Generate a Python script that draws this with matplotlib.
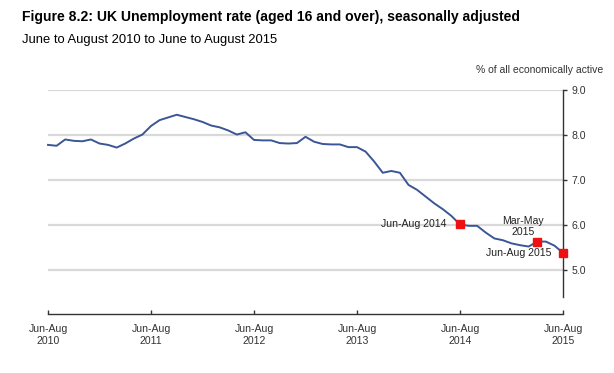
import matplotlib
matplotlib.use("Agg")
import matplotlib.pyplot as plt

plt.rcParams['font.family'] = ['Liberation Sans', 'DejaVu Sans']

# monthly rolling three-month periods, Jun-Aug 2010 .. Jun-Aug 2015
rate = [7.78, 7.76, 7.90, 7.87, 7.86, 7.90, 7.81, 7.78, 7.72, 7.81,
        7.92, 8.01, 8.20, 8.33, 8.39, 8.45, 8.40, 8.35, 8.29, 8.21,
        8.17, 8.10, 8.01, 8.06, 7.89, 7.88, 7.88, 7.82, 7.81, 7.82,
        7.96, 7.85, 7.80, 7.79, 7.79, 7.73, 7.73, 7.63, 7.41, 7.16,
        7.20, 7.16, 6.89, 6.78, 6.63, 6.48, 6.35, 6.20, 6.01, 5.98,
        5.98, 5.83, 5.70, 5.66, 5.59, 5.55, 5.52, 5.63, 5.63, 5.54,
        5.38]
months = list(range(len(rate)))

tick_pos = [0, 12, 24, 36, 48, 60]
tick_labels = ['Jun-Aug\n2010', 'Jun-Aug\n2011', 'Jun-Aug\n2012',
               'Jun-Aug\n2013', 'Jun-Aug\n2014', 'Jun-Aug\n2015']
y_ticks = [5.0, 6.0, 7.0, 8.0, 9.0]

marked = [48, 57, 60]
marked_labels = ['Jun-Aug 2014', 'Mar-May\n2015', 'Jun-Aug 2015']

fig = plt.figure(figsize=(6.14, 3.73), dpi=100)
ax = fig.add_axes([48/614, 1-314/373, 515/614, 224/373])

for v in y_ticks:
    ax.axhline(v, color='#d9d9d9', lw=1.6, zorder=1)

ax.plot(months, rate, color='#3b5696', lw=1.4, zorder=3, clip_on=False)
ax.plot([months[i] for i in marked], [rate[i] for i in marked], 's',
        color='#ee1111', ms=5.5, zorder=4, mec='#ee1111', clip_on=False)

ax.annotate(marked_labels[0], (marked[0], rate[marked[0]]), xytext=(-10, 0),
            textcoords='offset points', ha='right', va='center', fontsize=7.6, color='#222222')
ax.annotate(marked_labels[1], (marked[1], rate[marked[1]]), xytext=(-10, 3),
            textcoords='offset points', ha='center', va='bottom', fontsize=7.6,
            color='#222222', linespacing=1.15)
ax.annotate(marked_labels[2], (marked[2], rate[marked[2]]), xytext=(-8, 0),
            textcoords='offset points', ha='right', va='center', fontsize=7.6, color='#222222')

ax.set_xlim(0, 60)
ax.set_ylim(4.02, 9.0)

ax.spines['left'].set_visible(False)
ax.spines['top'].set_visible(False)
ax.spines['right'].set_bounds(4.4, 9.0)
ax.spines['right'].set_color('#333333')
ax.spines['bottom'].set_color('#333333')
ax.spines['right'].set_linewidth(1.0)
ax.spines['bottom'].set_linewidth(1.0)

ax.yaxis.tick_right()
ax.set_yticks(y_ticks)
ax.set_yticklabels(['%.1f' % v for v in y_ticks])
ax.tick_params(axis='y', direction='out', length=3, width=1, color='#333333',
               labelsize=7.6, labelcolor='#333333', pad=3)

ax.set_xticks(tick_pos)
ax.set_xticklabels(tick_labels)
ax.tick_params(axis='x', direction='in', length=3, width=1, color='#333333',
               labelsize=7.6, labelcolor='#333333', pad=7.5)

fig.text(22/614, 1-17/373, 'Figure 8.2: UK Unemployment rate (aged 16 and over), seasonally adjusted',
         fontsize=10.1, fontweight='bold', va='center', ha='left')
fig.text(22/614, 1-40/373, 'June to August 2010 to June to August 2015',
         fontsize=9.4, va='center', ha='left')
fig.text(603/614, 1-70/373, '% of all economically active',
         fontsize=7.5, va='center', ha='right', color='#333333')

fig.savefig('out.png', dpi=100)
